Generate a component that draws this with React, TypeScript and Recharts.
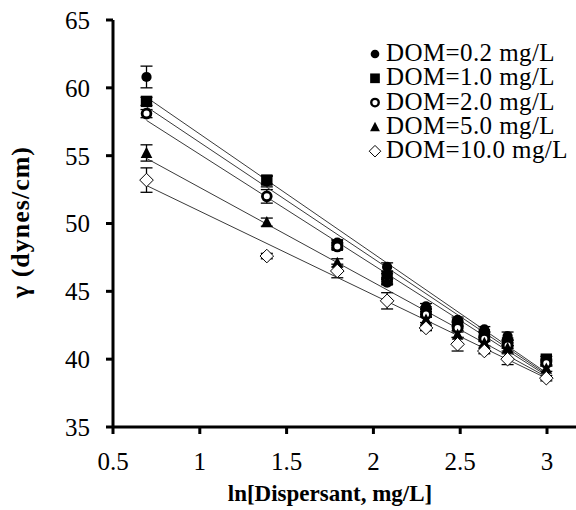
import React from 'react';
import { ScatterChart, Scatter, XAxis, YAxis, ErrorBar } from 'recharts';

const xValues = [0.693, 1.386, 1.792, 2.079, 2.303, 2.485, 2.639, 2.773, 2.996];

const seriesNames = ['DOM=0.2 mg/L', 'DOM=1.0 mg/L', 'DOM=2.0 mg/L', 'DOM=5.0 mg/L', 'DOM=10.0 mg/L'];

const dom02 = [60.8, 53.1, 48.6, 46.8, 43.9, 42.9, 42.2, 41.7, 39.8];
const dom10 = [59.0, 53.2, 48.4, 46.1, 43.5, 42.6, 41.8, 41.2, 40.0];
const dom20 = [58.1, 52.0, 48.3, 45.7, 43.3, 42.3, 41.5, 41.0, 39.7];
const dom50 = [55.2, 50.1, 47.1, 45.8, 42.9, 41.8, 41.2, 40.8, 39.3];
const dom100 = [53.2, 47.6, 46.5, 44.3, 42.3, 41.1, 40.6, 40.0, 38.6];

const err02 = [0.8, 0.4, 0.2, 0.3, 0.2, 0.2, 0.2, 0.3, 0.2];
const err10 = [0.3, 0.3, 0.2, 0.2, 0.2, 0.2, 0.2, 0.2, 0.2];
const err20 = [0.3, 0.5, 0.2, 0.2, 0.2, 0.2, 0.2, 0.2, 0.2];
const err50 = [0.6, 0.3, 0.3, 0.2, 0.2, 0.2, 0.2, 0.2, 0.2];
const err100 = [0.9, 0.2, 0.5, 0.6, 0.2, 0.5, 0.2, 0.4, 0.2];

// trendline endpoints
const trendX = [0.693, 2.996];
const trendStart = [59.3, 58.6, 57.6, 54.8, 52.8];
const trendEnd = [39.0, 38.9, 38.8, 38.7, 38.6];

const xTicks = [0.5, 1, 1.5, 2, 2.5, 3];
const yTicks = [35, 40, 45, 50, 55, 60, 65];

const FONT = 'Liberation Serif';

const allValues = [dom02, dom10, dom20, dom50, dom100];
const allErrors = [err02, err10, err20, err50, err100];

const seriesData = allValues.map((vals, s) =>
  xValues.map((x, i) => ({ x, y: vals[i], err: allErrors[s][i] }))
);

const trendData = trendStart.map((v, s) => [
  { x: trendX[0], y: v },
  { x: trendX[1], y: trendEnd[s] },
]);

function Marker({ kind, cx, cy, k = 1 }: { kind: number; cx: number; cy: number; k?: number }) {
  switch (kind) {
    case 0:
      return <circle cx={cx} cy={cy} r={5.1 * k} fill="#000" />;
    case 1:
      return <rect x={cx - 5.7 * k} y={cy - 5.7 * k} width={11.4 * k} height={11.4 * k} fill="#000" />;
    case 2:
      return <circle cx={cx} cy={cy} r={4.4 * k} fill="#fff" stroke="#000" strokeWidth={2.8 * k} />;
    case 3:
      return (
        <polygon
          points={`${cx},${cy - 6.2 * k} ${cx + 5.8 * k},${cy + 5 * k} ${cx - 5.8 * k},${cy + 5 * k}`}
          fill="#000"
        />
      );
    default:
      return (
        <polygon
          points={`${cx},${cy - 6.8 * k} ${cx + 6.8 * k},${cy} ${cx},${cy + 6.8 * k} ${cx - 6.8 * k},${cy}`}
          fill="#fff"
          stroke="#000"
          strokeWidth={1}
        />
      );
  }
}

function LegendBox() {
  return (
    <svg
      width={576}
      height={510}
      style={{ position: 'absolute', left: 0, top: 0, pointerEvents: 'none' }}
    >
      {seriesNames.map((name, i) => {
        const cy = 52.5 + i * 24.3;
        return (
          <g key={name}>
            <Marker kind={i} cx={375} cy={cy + 1.5} k={0.85} />
            <text
              x={386}
              y={cy}
              dominantBaseline="central"
              fontFamily={FONT}
              fontSize={25}
              letterSpacing={0.4}
              fill="#000"
            >
              {name}
            </text>
          </g>
        );
      })}
    </svg>
  );
}

export default function App() {
  return (
    <div style={{ position: 'absolute', left: 0, top: 0, width: 576, height: 510, background: '#fff' }}>
      <ScatterChart width={576} height={510} margin={{ top: 20, right: 0, bottom: 0, left: 0 }}>
        <XAxis
          type="number"
          dataKey="x"
          domain={[0.5, 3.167]}
          ticks={xTicks}
          allowDataOverflow
          height={83}
          tickSize={7}
          tickMargin={18}
          axisLine={{ stroke: '#000', strokeWidth: 3 }}
          tickLine={{ stroke: '#000', strokeWidth: 3 }}
          tick={{ fill: '#000', fontSize: 25, fontFamily: FONT }}
          tickFormatter={(v: number) => String(v)}
          label={{
            content: () => (
              <text
                x={330}
                y={501}
                textAnchor="middle"
                fontFamily={FONT}
                fontSize={23}
                fontWeight="bold"
                fill="#000"
              >
                ln[Dispersant,  mg/L]
              </text>
            ),
          }}
        />
        <YAxis
          type="number"
          dataKey="y"
          domain={[35, 65]}
          ticks={yTicks}
          allowDataOverflow
          width={113}
          tickSize={7}
          tickMargin={16}
          axisLine={{ stroke: '#000', strokeWidth: 3 }}
          tickLine={{ stroke: '#000', strokeWidth: 3 }}
          tick={{ fill: '#000', fontSize: 25, fontFamily: FONT }}
          label={{
            content: () => (
              <text
                x={0}
                y={0}
                transform="translate(29,222) rotate(-90)"
                textAnchor="middle"
                fontFamily={FONT}
                fontSize={26}
                letterSpacing={1}
                fontWeight="bold"
                fill="#000"
              >
                γ (dynes/cm)
              </text>
            ),
          }}
        />
        {trendData.map((d, s) => (
          <Scatter
            key={'t' + s}
            data={d}
            line={{ stroke: '#3a3a3a', strokeWidth: 1 }}
            shape={() => <g />}
            isAnimationActive={false}
            legendType="none"
          />
        ))}
        {seriesData.map((d, s) => (
          <Scatter
            key={'s' + s}
            name={seriesNames[s]}
            data={d}
            isAnimationActive={false}
            shape={(p: any) => <Marker kind={s} cx={p.cx} cy={p.cy} />}
          >
            <ErrorBar dataKey="err" direction="y" width={6} stroke="#000" strokeWidth={1.3} />
          </Scatter>
        ))}
      </ScatterChart>
      <LegendBox />
    </div>
  );
}
